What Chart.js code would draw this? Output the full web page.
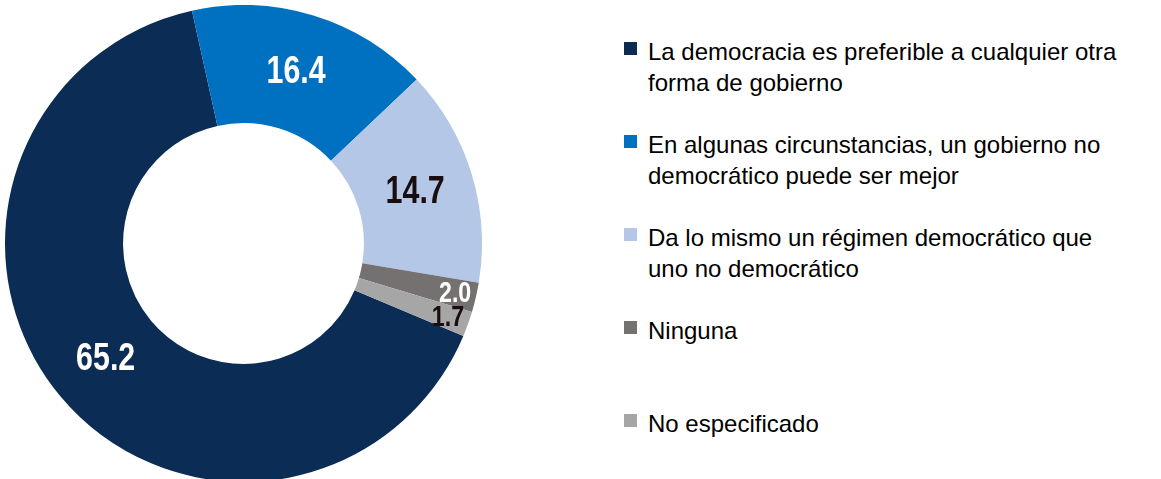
<!DOCTYPE html>
<html lang="es">
<head>
<meta charset="utf-8">
<title>Preferencia por la democracia</title>
<script src="https://cdn.jsdelivr.net/npm/chart.js@4.4.1/dist/chart.umd.min.js"></script>
<style>
    html, body {
        margin: 0;
        padding: 0;
        background: #ffffff;
        width: 1161px;
        height: 479px;
        overflow: hidden;
    }
    #graficoBox {
        position: absolute;
        left: 5px;
        top: 5px;
        width: 477px;
        height: 477px;
    }
    #leyenda {
        position: absolute;
        left: 624px;
        top: 36px;
        margin: 0;
        padding: 0;
        list-style: none;
        font-family: "Liberation Sans", Arial, sans-serif;
        font-size: 24px;
        line-height: 31px;
        color: #000000;
    }
    #leyenda li {
        position: relative;
        height: 93px;
        padding-left: 24px;
        white-space: nowrap;
    }
    #leyenda li span.cuadro {
        position: absolute;
        left: 0;
        top: 6px;
        width: 13px;
        height: 13px;
    }
</style>
</head>
<body>
<div id="graficoBox">
    <canvas id="democraciaChart"></canvas>
</div>
<ul id="leyenda"></ul>

<script>
// categorias (cada una con sus renglones, como en la leyenda original)
const categorias = [
    ['La democracia es preferible a cualquier otra', 'forma de gobierno'],
    ['En algunas circunstancias, un gobierno no', 'democrático puede ser mejor'],
    ['Da lo mismo un régimen democrático que', 'uno no democrático'],
    ['Ninguna'],
    ['No especificado']
];
const porcentajes = [65.2, 16.4, 14.7, 2.0, 1.7];

const colores = ['#0b2c54', '#0070c0', '#b4c7e7', '#767171', '#a6a6a6'];
const coloresTexto = ['#ffffff', '#ffffff', '#1a0d0d', '#ffffff', '#1a0d0d'];

// etiquetas de valor dentro de cada segmento
const etiquetasValor = {
    id: 'etiquetasValor',
    afterDatasetsDraw(chart) {
        const ctx = chart.ctx;
        const meta = chart.getDatasetMeta(0);
        meta.data.forEach((arc, i) => {
            const p = arc.getProps(['x', 'y', 'startAngle', 'endAngle', 'innerRadius', 'outerRadius']);
            const valor = chart.data.datasets[0].data[i];
            const chico = valor < 5;
            const ang = (p.startAngle + p.endAngle) / 2;
            const r = p.innerRadius + (p.outerRadius - p.innerRadius) * (chico ? 0.82 : 0.5);
            const x = p.x + Math.cos(ang) * r;
            const y = p.y + Math.sin(ang) * r;

            ctx.save();
            ctx.translate(x, y);
            ctx.scale(0.8, 1); // letra angosta, tipo Arial Narrow
            ctx.font = 'bold ' + (chico ? 29 : 38) + 'px "Liberation Sans", Arial, sans-serif';
            ctx.fillStyle = coloresTexto[i];
            ctx.textAlign = 'center';
            ctx.textBaseline = 'middle';
            ctx.fillText(valor.toFixed(1), 0, 1);
            ctx.restore();
        });
    }
};

window.addEventListener("load", function () {
    new Chart(document.getElementById("democraciaChart"), {
        type: 'doughnut',
        data: {
            labels: categorias,
            datasets: [{
                    data: porcentajes,
                    backgroundColor: colores,
                    borderWidth: 0,
                    hoverOffset: 0
                }]
        },
        options: {
            responsive: true,
            maintainAspectRatio: false,
            animation: false,
            rotation: 112.8,
            cutout: '50.5%',
            layout: {
                padding: 0
            },
            plugins: {
                legend: {
                    display: false
                },
                tooltip: {
                    enabled: false
                }
            }
        },
        plugins: [etiquetasValor]
    });

    // leyenda en HTML, armada desde los mismos arreglos
    const ul = document.getElementById("leyenda");
    categorias.forEach((lineas, i) => {
        const li = document.createElement("li");
        const cuadro = document.createElement("span");
        cuadro.className = "cuadro";
        cuadro.style.background = colores[i];
        li.appendChild(cuadro);
        lineas.forEach((t, k) => {
            if (k > 0) li.appendChild(document.createElement("br"));
            li.appendChild(document.createTextNode(t));
        });
        ul.appendChild(li);
    });
});
</script>
</body>
</html>
